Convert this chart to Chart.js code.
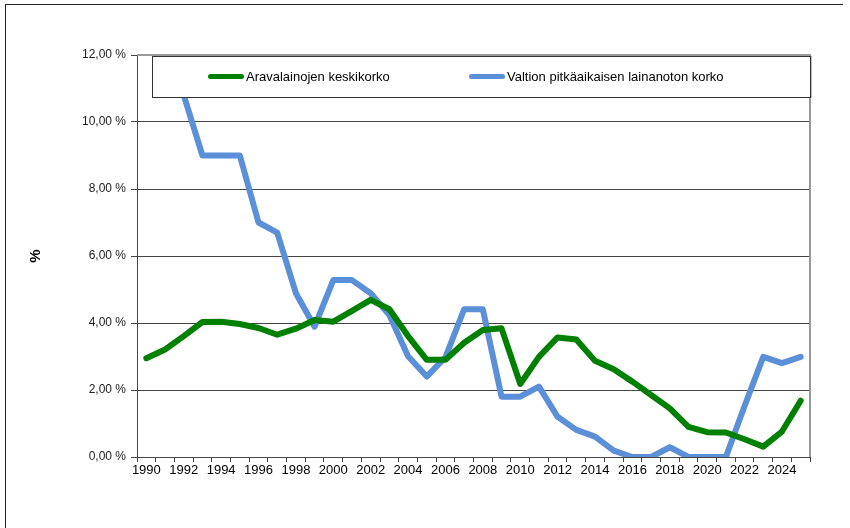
<!DOCTYPE html>
<html>
<head>
<meta charset="utf-8">
<script src="https://cdn.jsdelivr.net/npm/chart.js@4/dist/chart.umd.min.js"></script>
<style>
  body { margin: 0; background: #fff; font-family: "Liberation Sans", Arial, sans-serif; }
  #wrap { position: relative; width: 850px; height: 528px; overflow: hidden; }
  #kehys { position: absolute; left: 5px; top: 4px; width: 837px; height: 540px;
           border-left: 1px solid #222; border-top: 1px solid #222; }
  #selite { position: absolute; left: 152px; top: 56px; width: 657px; height: 40px;
            background: #fff; border: 1px solid #333; box-shadow: 1px 0 0 #bbb; }
  .kohta { position: absolute; top: 12px; font-size: 13px; color: #000; white-space: nowrap; }
  .viiva { display: inline-block; width: 36px; height: 5px; border-radius: 3px;
           vertical-align: middle; margin-right: 2px; position: relative; top: -1px; }
</style>
</head>
<body>
<div id="wrap">
  <canvas id="kuvio" width="850" height="528"></canvas>
  <div id="kehys"></div>
  <div id="selite">
    <span class="kohta" style="left:55px"><span class="viiva" style="background:#008000"></span>Aravalainojen keskikorko</span>
    <span class="kohta" style="left:316px"><span class="viiva" style="background:#5b8fd8"></span>Valtion pitkäaikaisen lainanoton korko</span>
  </div>
</div>
<script>
// Vuodet 1990-2025
var vuodet = [];
for (var v = 1990; v <= 2025; v++) vuodet.push(String(v));

// Aravalainojen keskikorko (%)
var aravaKorko = [2.95, 3.21, 3.61, 4.03, 4.04, 3.97, 3.85, 3.65, 3.83, 4.09,
                  4.04, 4.36, 4.69, 4.41, 3.61, 2.90, 2.90, 3.41, 3.79, 3.84,
                  2.18, 2.99, 3.57, 3.51, 2.87, 2.62, 2.25, 1.85, 1.45, 0.90,
                  0.74, 0.73, 0.53, 0.31, 0.76, 1.68];

// Valtion pitkäaikaisen lainanoton korko (%), 1990-1991 jää selitteen / asteikon yli
var valtioKorko = [13.0, 11.9, 10.8, 9.0, 9.0, 9.0, 7.0, 6.7, 4.89, 3.89,
                   5.28, 5.28, 4.89, 4.24, 3.01, 2.40, 2.98, 4.41, 4.41, 1.80,
                   1.80, 2.10, 1.20, 0.81, 0.61, 0.19, 0.0, 0.0, 0.29, 0.0,
                   0.0, 0.0, 1.52, 2.99, 2.80, 2.99];

var yTicks = [0, 2, 4, 6, 8, 10, 12];

// harmaa reunus kuvaajan oikealle ja ylös
var reunus = {
    id: 'reunus',
    afterDraw: function (chart) {
        var a = chart.chartArea, c = chart.ctx;
        c.save();
        c.strokeStyle = '#999';
        c.lineWidth = 2;
        c.beginPath();
        c.moveTo(a.left, a.top);
        c.lineTo(a.right, a.top);
        c.lineTo(a.right, a.bottom);
        c.stroke();
        c.restore();
    }
};

var ctx = document.getElementById('kuvio').getContext('2d');
var kuvio = new Chart(ctx, {
    type: 'line',
    data: {
        labels: vuodet,
        datasets: [{
            label: 'Aravalainojen keskikorko',
            data: aravaKorko,
            borderColor: '#008000',
            borderWidth: 6,
            pointRadius: 0,
            tension: 0,
            borderJoinStyle: 'round',
            borderCapStyle: 'round'
        }, {
            label: 'Valtion pitkäaikaisen lainanoton korko',
            data: valtioKorko,
            borderColor: '#5b8fd8',
            borderWidth: 6,
            pointRadius: 0,
            tension: 0,
            clip: 0,
            borderJoinStyle: 'round',
            borderCapStyle: 'round'
        }]
    },
    options: {
        responsive: false,
        animation: false,
        layout: { padding: { top: 55, right: 40, left: 0, bottom: 0 } },
        plugins: { legend: { display: false }, tooltip: { enabled: false } },
        scales: {
            x: {
                offset: true,
                grid: { offset: true, drawOnChartArea: false, drawTicks: true, tickLength: 5, color: '#444' },
                border: { color: '#444', width: 1 },
                ticks: {
                    autoSkip: false,
                    maxRotation: 0,
                    padding: 1,
                    color: '#000',
                    font: { family: 'Liberation Sans', size: 13 },
                    callback: function (val, i) { return i % 2 === 0 ? vuodet[i] : ''; }
                },
                afterFit: function (s) { s.height = 71; }
            },
            y: {
                min: 0,
                max: 12,
                afterBuildTicks: function (s) { s.ticks = yTicks.map(function (t) { return { value: t }; }); },
                grid: { color: '#444', tickLength: 6, lineWidth: 1 },
                border: { color: '#444', width: 1 },
                ticks: {
                    padding: 5,
                    color: '#222',
                    font: { family: 'Liberation Sans', size: 12 },
                    callback: function (val) { return val.toFixed(2).replace('.', ',') + ' %'; }
                },
                title: {
                    display: true,
                    text: '%',
                    color: '#000',
                    font: { family: 'Liberation Sans', size: 15, weight: 'bold' },
                    padding: { top: 27, bottom: 0 }
                },
                afterFit: function (s) { s.width = 137; }
            }
        }
    },
    plugins: [reunus]
});
</script>
</body>
</html>
